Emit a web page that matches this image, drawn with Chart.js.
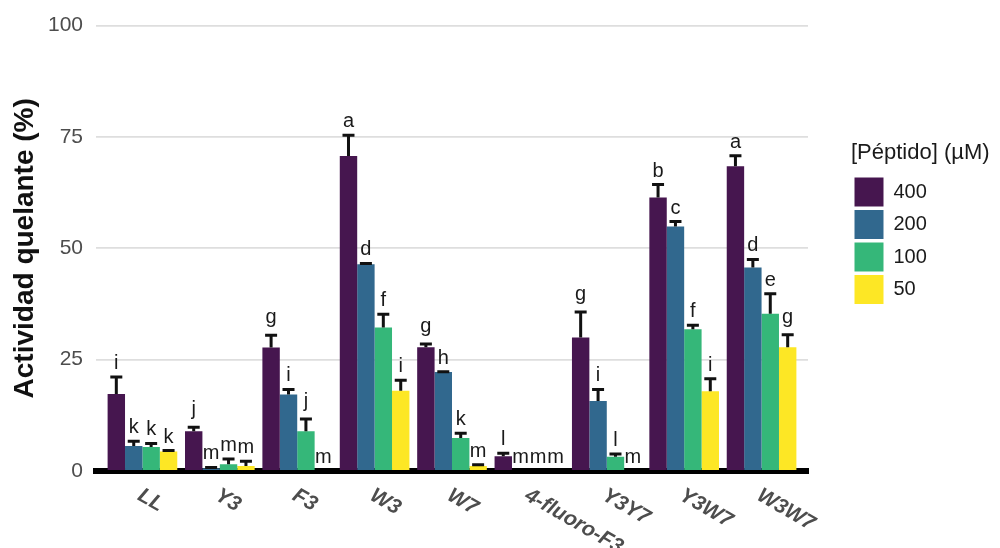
<!DOCTYPE html>
<html><head><meta charset="utf-8">
<script src="https://cdn.jsdelivr.net/npm/chart.js@4"></script>
<style>html,body{margin:0;padding:0;background:#fff}</style>
</head><body>
<canvas id="c" width="1000" height="548"></canvas>
<script>
const categories = ["LL","Y3","F3","W3","W7","4-fluoro-F3","Y3Y7","Y3W7","W3W7"];
const seriesNames = ["400","200","100","50"];
const values400 = [17.3, 8.9, 27.7, 70.7, 27.8, 3.3, 30.0, 61.4, 68.4];
const values200 = [5.6, 0.6, 17.2, 46.4, 22.2, 0, 15.7, 54.9, 45.7];
const values100 = [5.4, 1.5, 8.9, 32.2, 7.4, 0, 3.2, 31.8, 35.3];
const values50  = [4.4, 1.1, 0, 18.0, 1.1, 0, 0, 17.9, 27.8];
const sd400 = [3.8, 0.9, 2.8, 4.7, 0.7, 0.7, 5.7, 2.9, 2.4];
const sd200 = [1.1, 0.2, 1.1, 0.2, 0.1, 0, 2.6, 1.1, 1.8];
const sd100 = [0.8, 1.2, 2.8, 3.0, 1.1, 0, 0.6, 0.9, 4.5];
const sd50  = [0.2, 1.1, 0, 2.4, 0.3, 0, 0, 2.8, 2.8];
const letters400 = ["i","j","g","a","g","l","g","b","a"];
const letters200 = ["k","m","i","d","h","m","i","c","d"];
const letters100 = ["k","m","j","f","k","m","l","f","e"];
const letters50  = ["k","m","m","i","m","m","m","i","g"];
const yTicks = [0, 25, 50, 75, 100];
const colors = ["#46164f", "#31688e", "#35b779", "#fde725"];

const allValues = [values400, values200, values100, values50];
const allSd = [sd400, sd200, sd100, sd50];
const allLetters = [letters400, letters200, letters100, letters50];

const FONT = '"Liberation Sans", Arial, Helvetica, sans-serif';

const datasets = seriesNames.map((name, s) => ({
  label: name,
  data: categories.map((c, i) => ({x: i + 1, y: allValues[s][i]})),
  backgroundColor: colors[s],
  borderWidth: 0,
  categoryPercentage: 0.9,
  barPercentage: 1.0
}));

const decorations = {
  id: 'decorations',
  afterInit(chart) {
    const lg = chart.legend;
    if (lg) {
      const origFit = lg.fit;
      lg.fit = function () { origFit.call(this); this.width = 149; };
    }
  },
  afterDatasetsDraw(chart) {
    const ctx = chart.ctx;
    const y = chart.scales.y;
    ctx.save();
    for (let s = 0; s < datasets.length; s++) {
      const meta = chart.getDatasetMeta(s);
      meta.data.forEach((bar, i) => {
        const v = allValues[s][i], sd = allSd[s][i];
        const top = y.getPixelForValue(v + sd);
        if (sd > 0) {
          ctx.strokeStyle = '#111';
          ctx.lineWidth = 3;
          ctx.beginPath();
          ctx.moveTo(bar.x, y.getPixelForValue(v));
          ctx.lineTo(bar.x, top);
          ctx.moveTo(bar.x - 6, top);
          ctx.lineTo(bar.x + 6, top);
          ctx.stroke();
        }
        const txt = allLetters[s][i];
        ctx.font = '20px ' + FONT;
        ctx.fillStyle = '#1a1a1a';
        ctx.textAlign = 'center';
        ctx.textBaseline = 'alphabetic';
        const m = ctx.measureText(txt);
        ctx.fillText(txt, bar.x, top - 8 - m.actualBoundingBoxDescent);
      });
    }
    ctx.restore();
  },
  afterDraw(chart) {
    const ctx = chart.ctx;
    const x = chart.scales.x;
    ctx.save();
    ctx.font = 'italic bold 21px ' + FONT;
    ctx.fillStyle = '#4d4d4d';
    ctx.textAlign = 'left';
    ctx.textBaseline = 'middle';
    categories.forEach((c, i) => {
      const px = x.getPixelForValue(i + 1);
      ctx.save();
      ctx.translate(px - 3, 494);
      ctx.rotate(Math.PI / 6);
      ctx.fillText(c, 0, 0);
      ctx.restore();
    });
    ctx.restore();
  }
};

new Chart(document.getElementById('c'), {
  type: 'bar',
  data: { datasets },
  options: {
    responsive: false,
    devicePixelRatio: 1,
    animation: false,
    events: [],
    layout: { padding: { top: 20, left: 0, right: 0, bottom: 0 } },
    scales: {
      x: {
        type: 'linear',
        min: 0.4, max: 9.6,
        offset: false,
        z: 1,
        grid: { display: false, drawTicks: false, offset: false },
        border: { display: true, color: '#000', width: 6 },
        ticks: { display: false },
        afterBuildTicks: (axis) => { axis.ticks = categories.map((c, i) => ({value: i + 1})); },
        afterFit: (axis) => { axis.height = 77; }
      },
      y: {
        min: 0, max: 100,
        afterBuildTicks: (axis) => { axis.ticks = yTicks.map(v => ({value: v})); },
        grid: { color: '#dedede', lineWidth: 1.8, drawTicks: false },
        border: { display: false },
        ticks: { color: '#4d4d4d', font: { size: 21, family: FONT }, padding: 13 },
        title: { display: true, text: 'Actividad quelante (%)', color: '#111',
                 font: { size: 28, weight: 'bold', family: FONT }, padding: { top: 8, bottom: 0 } },
        afterFit: (axis) => { axis.width = 96; }
      },
      spacer: {
        type: 'linear',
        position: 'right',
        display: true,
        grid: { display: false, drawTicks: false },
        border: { display: false },
        ticks: { display: false },
        afterFit: (axis) => { axis.width = 43; }
      }
    },
    plugins: {
      tooltip: { enabled: false },
      legend: {
        position: 'right',
        align: 'start',
        title: { display: true, text: '[Péptido] (µM)', color: '#1a1a1a',
                 font: { size: 22, family: FONT }, padding: { top: 122, bottom: 5.6 }, position: 'start' },
        labels: { boxWidth: 29, boxHeight: 29, padding: 3.5, color: '#1a1a1a',
                  font: { size: 20, family: FONT } }
      }
    }
  },
  plugins: [decorations]
});
</script>
</body></html>
